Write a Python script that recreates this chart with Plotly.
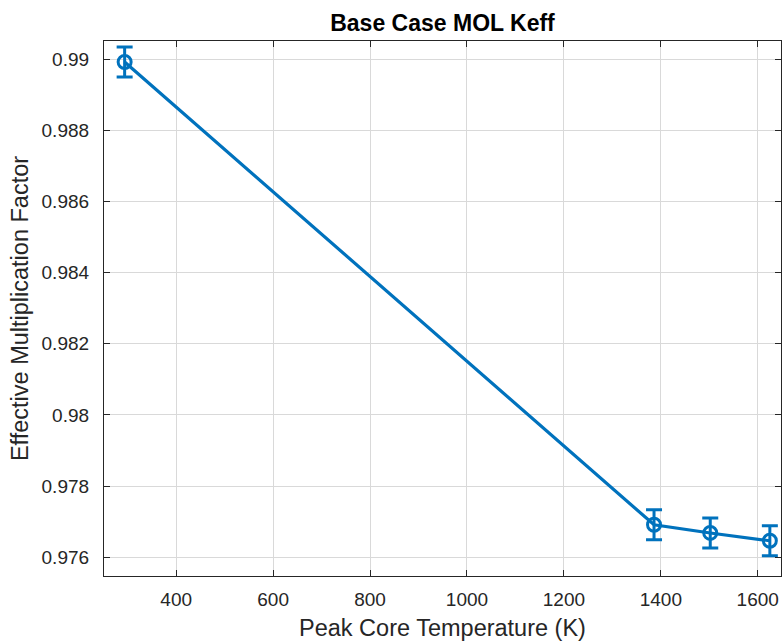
import plotly.graph_objects as go

temps = [293.6, 1386, 1502, 1625]
keff = [0.98992, 0.97691, 0.97668, 0.97646]
keff_err = [0.00042, 0.00042, 0.00042, 0.00042]
yticks = [0.976, 0.978, 0.98, 0.982, 0.984, 0.986, 0.988, 0.99]
ytext = ["0.976", "0.978", "0.98", "0.982", "0.984", "0.986", "0.988", "0.99"]
xticks = [400, 600, 800, 1000, 1200, 1400, 1600]

blue = "#0072BD"
fig = go.Figure()
fig.add_trace(go.Scatter(
    x=temps, y=keff, mode="lines+markers",
    line=dict(color=blue, width=3.2),
    marker=dict(symbol="circle-open", size=13, color=blue, line=dict(width=3, color=blue)),
    error_y=dict(type="data", array=keff_err, visible=True, color=blue, thickness=3, width=8),
    showlegend=False,
))

font = "Liberation Sans, Arial, sans-serif"
fig.update_layout(
    width=782, height=643,
    margin=dict(l=104, r=1, t=41, b=67),
    paper_bgcolor="white", plot_bgcolor="white",
    font=dict(family=font, color="#262626"),
    title=dict(text="<b>Base Case MOL Keff</b>", x=(104 + 781) / 2 / 782, xanchor="center",
               y=1 - 23 / 643, yanchor="middle", font=dict(size=23, color="#000000")),
)
fig.update_xaxes(
    range=[251, 1648], tickvals=xticks, showgrid=True, gridcolor="#d9d9d9", gridwidth=1,
    ticks="inside", ticklen=6, tickcolor="#262626", mirror="ticks", showline=True,
    linecolor="#262626", linewidth=1.2, zeroline=False, ticklabelstandoff=6,
    tickfont=dict(size=19, color="#262626"),
    title=dict(text="Peak Core Temperature (K)", font=dict(size=23.5, color="#262626"), standoff=10),
)
fig.update_yaxes(
    range=[0.97547, 0.99051], tickvals=yticks, ticktext=ytext, showgrid=True, gridcolor="#d9d9d9",
    gridwidth=1, ticks="inside", ticklen=6, tickcolor="#262626", mirror="ticks", showline=True,
    linecolor="#262626", linewidth=1.2, zeroline=False, ticklabelstandoff=10,
    tickfont=dict(size=19, color="#262626"),
    title=dict(text="Effective Multiplication Factor", font=dict(size=23.5, color="#262626"), standoff=6),
)
fig.write_html("out.html")
